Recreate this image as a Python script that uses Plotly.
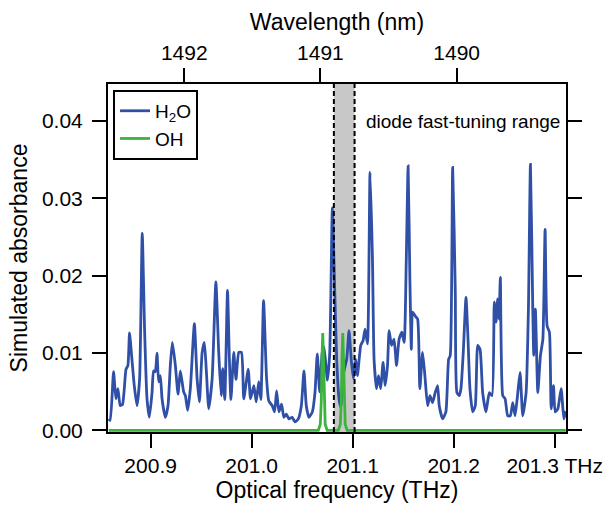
import plotly.graph_objects as go

# ---- data ----
freq_thz = [200.8585, 200.8600, 200.8633, 200.8656, 200.8676, 200.8699, 200.8722, 200.8756, 200.8775, 200.8791,
            200.8815, 200.8838, 200.8865, 200.8891, 200.8917, 200.8940, 200.8964, 200.8987, 200.9014, 200.9029,
            200.9046, 200.9063, 200.9079, 200.9096, 200.9113, 200.9145, 200.9172, 200.9195, 200.9215, 200.9245,
            200.9271, 200.9294, 200.9327, 200.9344, 200.9367, 200.9393, 200.9433, 200.9460, 200.9483, 200.9510,
            200.9532, 200.9552, 200.9575, 200.9609, 200.9646, 200.9674, 200.9698, 200.9714, 200.9734, 200.9761,
            200.9780, 200.9795, 200.9823, 200.9845, 200.9873, 200.9899, 200.9922, 200.9966, 200.9989, 201.0022,
            201.0045, 201.0071, 201.0091, 201.0118, 201.0148, 201.0170, 201.0204, 201.0227, 201.0247, 201.0270,
            201.0296, 201.0319, 201.0343, 201.0369, 201.0402, 201.0428, 201.0462, 201.0492, 201.0518, 201.0541,
            201.0567, 201.0601, 201.0627, 201.0650, 201.0673, 201.0698, 201.0716, 201.0750, 201.0773, 201.0799,
            201.0822, 201.0842, 201.0865, 201.0882, 201.0911, 201.0941, 201.0964, 201.0988, 201.1008, 201.1030,
            201.1047, 201.1080, 201.1103, 201.1123, 201.1147, 201.1172, 201.1196, 201.1212, 201.1236, 201.1256,
            201.1278, 201.1301, 201.1321, 201.1345, 201.1361, 201.1385, 201.1410, 201.1434, 201.1460, 201.1487,
            201.1510, 201.1531, 201.1549, 201.1566, 201.1581, 201.1593, 201.1619, 201.1643, 201.1665, 201.1692,
            201.1715, 201.1742, 201.1765, 201.1791, 201.1817, 201.1841, 201.1857, 201.1891, 201.1923, 201.1950,
            201.1966, 201.1990, 201.2016, 201.2032, 201.2055, 201.2072, 201.2095, 201.2122, 201.2142, 201.2161,
            201.2188, 201.2214, 201.2238, 201.2261, 201.2287, 201.2320, 201.2353, 201.2380, 201.2402, 201.2419,
            201.2436, 201.2449, 201.2462, 201.2486, 201.2509, 201.2535, 201.2561, 201.2585, 201.2608, 201.2635,
            201.2657, 201.2684, 201.2717, 201.2740, 201.2760, 201.2783, 201.2793, 201.2809, 201.2833, 201.2859,
            201.2883, 201.2905, 201.2925, 201.2948, 201.2965, 201.2988, 201.3005, 201.3031, 201.3064, 201.3091,
            201.3110]

h2o_abs = [0.0015, 0.0013, 0.0076, 0.0041, 0.0054, 0.0032, 0.0034, 0.0079, 0.0084, 0.0126,
           0.0092, 0.0058, 0.0032, 0.0067, 0.0255, 0.0131, 0.0041, 0.0017, 0.0049, 0.0077,
           0.0076, 0.0100, 0.0063, 0.0071, 0.0041, 0.0017, 0.0032, 0.0084, 0.0114, 0.0084,
           0.0047, 0.0077, 0.0050, 0.0045, 0.0026, 0.0054, 0.0138, 0.0067, 0.0037, 0.0101,
           0.0114, 0.0076, 0.0028, 0.0067, 0.0192, 0.0101, 0.0045, 0.0080, 0.0040, 0.0181,
           0.0090, 0.0040, 0.0101, 0.0066, 0.0101, 0.0101, 0.0041, 0.0079, 0.0041, 0.0058,
           0.0037, 0.0063, 0.0040, 0.0168, 0.0067, 0.0038, 0.0032, 0.0024, 0.0051, 0.0024,
           0.0034, 0.0017, 0.0021, 0.0015, 0.0017, 0.0011, 0.0015, 0.0032, 0.0077, 0.0032,
           0.0017, 0.0024, 0.0049, 0.0099, 0.0050, 0.0100, 0.0108, 0.0065, 0.0100, 0.0288,
           0.0183, 0.0092, 0.0041, 0.0030, 0.0075, 0.0092, 0.0129, 0.0088, 0.0067, 0.0092,
           0.0071, 0.0110, 0.0116, 0.0131, 0.0112, 0.0334, 0.0222, 0.0092, 0.0054, 0.0071,
           0.0054, 0.0088, 0.0058, 0.0084, 0.0129, 0.0110, 0.0118, 0.0084, 0.0118, 0.0127,
           0.0114, 0.0222, 0.0342, 0.0200, 0.0105, 0.0153, 0.0148, 0.0144, 0.0054, 0.0101,
           0.0071, 0.0032, 0.0045, 0.0036, 0.0049, 0.0058, 0.0032, 0.0015, 0.0024, 0.0092,
           0.0097, 0.0340, 0.0179, 0.0049, 0.0045, 0.0054, 0.0101, 0.0172, 0.0118, 0.0054,
           0.0024, 0.0032, 0.0110, 0.0105, 0.0049, 0.0024, 0.0049, 0.0045, 0.0166, 0.0140,
           0.0170, 0.0144, 0.0198, 0.0045, 0.0041, 0.0019, 0.0019, 0.0036, 0.0019, 0.0049,
           0.0075, 0.0019, 0.0049, 0.0157, 0.0344, 0.0157, 0.0097, 0.0157, 0.0049, 0.0097,
           0.0118, 0.0260, 0.0135, 0.0127, 0.0028, 0.0058, 0.0024, 0.0028, 0.0054, 0.0015,
           0.0025]

oh_freq = [200.8585, 201.0660, 201.0680, 201.0690, 201.0697, 201.0704, 201.0711, 201.0718, 201.0728, 201.0748,
           201.0858, 201.0878, 201.0888, 201.0895, 201.0902, 201.0909, 201.0916, 201.0926, 201.0946, 201.3110]
oh_abs = [0, 0, 0.0008, 0.0040, 0.0095, 0.0126, 0.0095, 0.0040, 0.0008, 0,
          0, 0.0008, 0.0040, 0.0095, 0.0126, 0.0095, 0.0040, 0.0008, 0, 0]

freq_ticks = [200.9, 201.0, 201.1, 201.2, 201.3]
freq_ticktext = ["200.9", "201.0", "201.1", "201.2", "201.3 THz"]
wavelength_ticks_nm = [1492, 1491, 1490]
abs_ticks = [0.00, 0.01, 0.02, 0.03, 0.04]

fast_tuning_range = [201.0814, 201.1019]

C_NM_THZ = 299792.458
wl_tickvals = [C_NM_THZ / w for w in wavelength_ticks_nm]

BLUE = "#2f50a6"
GREEN = "#3cb33c"
FONT = "Liberation Sans, Arial, sans-serif"

x_range = [200.8578, 201.3112]

fig = go.Figure()
fig.add_trace(go.Scatter(x=freq_thz, y=h2o_abs, mode="lines", name="H<sub>2</sub>O",
                         line=dict(color=BLUE, width=2.8, shape="spline", smoothing=0.5)))
fig.add_trace(go.Scatter(x=oh_freq, y=oh_abs, mode="lines", name="OH",
                         line=dict(color=GREEN, width=2.8)))
fig.add_trace(go.Scatter(x=[], y=[], xaxis="x2", showlegend=False, hoverinfo="skip"))

# shaded fast-tuning range
fig.add_shape(type="rect", xref="x", yref="paper", x0=fast_tuning_range[0], x1=fast_tuning_range[1],
              y0=0, y1=1, fillcolor="#c8c8c8", line=dict(width=0), layer="below")
for xv in fast_tuning_range:
    fig.add_shape(type="line", xref="x", yref="paper", x0=xv, x1=xv, y0=0, y1=1,
                  line=dict(color="black", width=2, dash="5px,3px"), layer="above")

fig.add_annotation(x=201.1108, y=0.0400, xref="x", yref="y", text="diode fast-tuning range",
                   showarrow=False, xanchor="left", yanchor="middle",
                   font=dict(family=FONT, size=19, color="black"))

axis_common = dict(showgrid=False, zeroline=False, showline=True, linecolor="black", linewidth=2,
                   ticks="outside", ticklen=14, tickwidth=2, tickcolor="black", automargin=False,
                   tickfont=dict(family=FONT, size=21, color="black"))

fig.update_layout(
    width=607, height=515,
    margin=dict(l=108, r=41, t=84, b=83),
    paper_bgcolor="white", plot_bgcolor="white",
    font=dict(family=FONT, color="black"),
    xaxis=dict(range=x_range, tickvals=freq_ticks, ticktext=freq_ticktext,
               title=dict(text="Optical frequency (THz)", font=dict(family=FONT, size=23), standoff=4),
               **axis_common),
    xaxis2=dict(range=x_range, overlaying="x", side="top", tickvals=wl_tickvals,
                ticktext=[str(w) for w in wavelength_ticks_nm],
                title=dict(text="Wavelength (nm)", font=dict(family=FONT, size=23), standoff=4),
                **axis_common),
    yaxis=dict(range=[-0.0002, 0.0448], tickvals=abs_ticks, tickformat=".2f", mirror="ticks",
               ticklabelstandoff=5,
               title=dict(text="Simulated absorbance", font=dict(family=FONT, size=23), standoff=8),
               **axis_common),
    legend=dict(x=0.011, y=0.983, xanchor="left", yanchor="top", bgcolor="white",
                bordercolor="black", borderwidth=2, itemwidth=30,
                font=dict(family=FONT, size=19, color="black"), tracegroupgap=0),
    showlegend=True,
)

fig.write_html("out.html", config={"displayModeBar": False},
               post_script="document.body.style.margin='0px';document.body.style.overflow='hidden';")
